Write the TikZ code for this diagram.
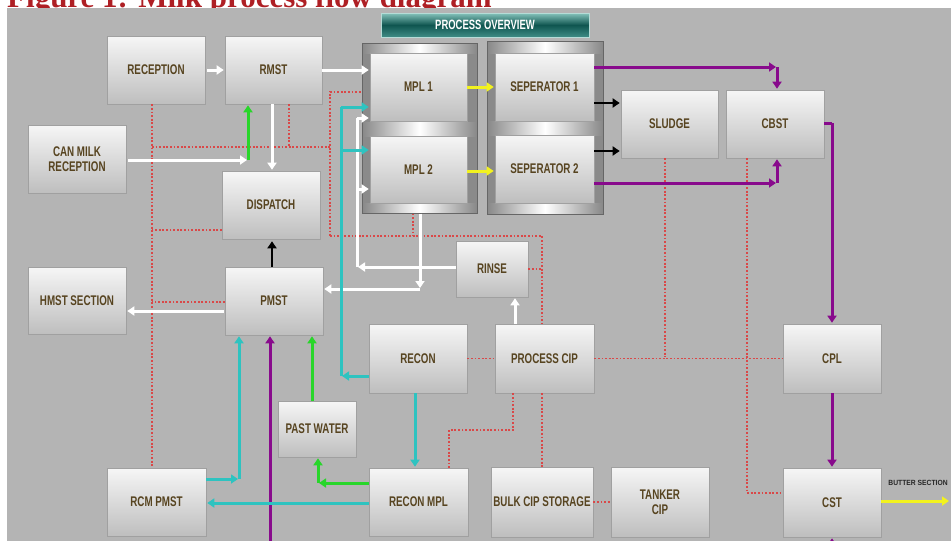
\documentclass[tikz,border=0pt]{standalone}
\usepackage{fontspec}
\usetikzlibrary{arrows.meta}
\newfontfamily\boxfont[FakeStretch=0.7]{Liberation Sans}
\newfontfamily\capfont{Liberation Serif}
\newfontfamily\tinyfont[FakeStretch=0.9]{Liberation Sans}
\definecolor{panel}{HTML}{B4B4B4}
\definecolor{txtc}{HTML}{574420}
\definecolor{capred}{HTML}{AE1F24}
\definecolor{cyanl}{HTML}{2EC3C0}
\definecolor{greenl}{HTML}{28D62A}
\definecolor{purpl}{HTML}{880A8C}
\definecolor{yell}{HTML}{F2F21E}
\definecolor{redd}{HTML}{D94848}
\definecolor{boxtop}{HTML}{F6F6F6}
\definecolor{boxbot}{HTML}{BEBEBE}
\definecolor{boxline}{HTML}{A0A0A0}
\definecolor{framec}{HTML}{8A8A8A}
\definecolor{frameline}{HTML}{666666}
\definecolor{teala}{HTML}{86C4BC}
\definecolor{tealb}{HTML}{0F5550}
\definecolor{tealc}{HTML}{3F8C85}
\tikzset{
  box/.style={draw=boxline, line width=0.6pt, top color=boxtop, bottom color=boxbot,
    minimum width=98pt, minimum height=68pt, inner sep=0pt, align=center, text=txtc,
    font=\boxfont\bfseries\fontsize{14}{15}\selectfont},
  frame/.style={draw=frameline, line width=1pt, fill=framec, inner sep=0pt},
  banner/.style={draw=teala!60!white, line width=1pt, top color=teala, bottom color=tealc,
    middle color=tealb, minimum width=208pt, minimum height=24pt, inner sep=0pt,
    text=white, font=\boxfont\bfseries\fontsize{13.5}{15}\selectfont},
  arrtip/.style={-{Triangle[length=7pt,width=9pt]}, shorten >=1pt},
  conn/.style={line width=3pt},
  wl/.style={conn, draw=white}, wa/.style={wl, arrtip},
  cl/.style={conn, draw=cyanl}, ca/.style={cl, arrtip},
  gl/.style={conn, draw=greenl}, ga/.style={gl, arrtip},
  pl/.style={conn, draw=purpl}, pa/.style={pl, arrtip},
  yl/.style={conn, draw=yell}, ya/.style={yl, arrtip},
  ba/.style={line width=2.5pt, draw=black, arrtip},
  rd/.style={draw=redd, line width=1.6pt, dash pattern=on 1.8pt off 1.8pt}
}
\begin{document}
\begin{tikzpicture}[x=1pt,y=-1pt]
\useasboundingbox (0,0) rectangle (951,541);
\clip (0,0) rectangle (951,541);
\node[anchor=base west, inner sep=0pt, text=capred,
  font=\capfont\bfseries\fontsize{31}{34}\selectfont] (cap) at (7,7.5) {Figure 1: Milk process flow diagram};
\fill[panel] (7,8) rectangle (951,541);

% banner
\node[banner] (PO) at (485,25) {PROCESS OVERVIEW};

% frames
\node[frame, minimum width=115pt, minimum height=170pt] (F1) at (419.5,128) {};
\node[frame, minimum width=116pt, minimum height=173pt] (F2) at (545,127.5) {};
\shade[left color=framec, right color=framec, middle color=white] (363,44) rectangle (476,53);
\shade[left color=framec, right color=framec, middle color=white] (363,122) rectangle (476,136);
\shade[left color=framec, right color=framec, middle color=white] (363,203) rectangle (476,212);
\shade[left color=framec, right color=framec, middle color=white] (488,42) rectangle (602,53);
\shade[left color=framec, right color=framec, middle color=white] (488,121) rectangle (602,135);
\shade[left color=framec, right color=framec, middle color=white] (488,203) rectangle (602,213);

% boxes
\node[box] (REC) at (156,70) {RECEPTION};
\node[box, minimum width=97pt] (RMST) at (273.5,70) {RMST};
\node[box] (CAN) at (77,159) {CAN MILK\\RECEPTION};
\node[box] (DISP) at (271,205) {DISPATCH};
\node[box, minimum height=67pt] (HMST) at (77,300.5) {HMST SECTION};
\node[box] (PMST) at (274,301) {PMST};
\node[box, minimum width=97pt] (MPLa) at (418.5,87) {MPL 1};
\node[box, minimum width=97pt, minimum height=67pt] (MPLb) at (418.5,169.5) {MPL 2};
\node[box, minimum width=99pt] (SEPa) at (544.5,87) {SEPERATOR 1};
\node[box, minimum width=99pt] (SEPb) at (544.5,169) {SEPERATOR 2};
\node[box, minimum width=97pt] (SLUD) at (669.5,124) {SLUDGE};
\node[box] (CBST) at (775,124) {CBST};
\node[box, minimum width=72pt, minimum height=56pt] (RINSE) at (492,269) {RINSE};
\node[box, minimum height=69pt] (RECON) at (418,358.5) {RECON};
\node[box, minimum width=99pt, minimum height=69pt] (PCIP) at (544.5,358.5) {PROCESS CIP};
\node[box, minimum height=69pt] (CPL) at (832,358.5) {CPL};
\node[box, minimum width=78pt, minimum height=56pt] (PAST) at (317,429) {PAST WATER};
\node[box, minimum width=99pt] (RCM) at (156.5,502) {RCM PMST};
\node[box, minimum width=99pt] (RMPL) at (418.5,502) {RECON MPL};
\node[box, minimum width=102pt, minimum height=70pt] (BULK) at (542,502) {BULK CIP STORAGE};
\node[box, minimum height=70pt] (TANK) at (660,502) {TANKER\\CIP};
\node[box, minimum height=69pt] (CST) at (832,502.5) {CST};
\node[inner sep=0pt, text=black!85, font=\tinyfont\bfseries\fontsize{7.5}{9}\selectfont] (BS) at (918,483) {BUTTER SECTION};

% red dotted
\coordinate (r1) at (152,147);
\coordinate (r2) at (330,147);
\coordinate (r3) at (330,92);
\coordinate (r4) at (330,236);
\coordinate (r5) at (542,236);
\coordinate (r6) at (413,236);
\coordinate (r7) at (665,357);
\coordinate (r8) at (747,493);
\coordinate (r9) at (513,430);
\coordinate (r10) at (449,430);
\coordinate (r11) at (289,147);
\coordinate (r12) at (152,230);
\coordinate (r13) at (152,302);
\draw[rd] (REC.south -| r1) -- (RCM.north -| r1);
\draw[rd] (r1) -- (r2);
\draw[rd] (RMST.south -| r11) -- (r11);
\draw[rd] (r4) -- (r3) -- (F1.west |- r3);
\draw[rd] (r4) -- (r5) -- (PCIP.north -| r5);
\draw[rd] (RINSE.east) -- (RINSE.east -| r5);
\draw[rd] (F1.south -| r6) -- (r6);
\draw[rd] (DISP.west |- r12) -- (r12);
\draw[rd] (PMST.west |- r13) -- (r13);
\draw[rd] (RECON.east) -- (PCIP.west);
\draw[rd] (PCIP.east) -- (CPL.west);
\draw[rd] (SLUD.south -| r7) -- (r7);
\draw[rd] (CBST.south -| r8) -- (r8) -- (CST.west |- r8);
\draw[rd] (PCIP.south -| r9) -- (r9) -- (r10) -- (RMPL.north -| r10);
\draw[rd] (PCIP.south -| r5) -- (BULK.north -| r5);
\draw[rd] (BULK.east) -- (TANK.west);

% purple
\coordinate (p0) at (270,560);
\coordinate (p1) at (777,67);
\coordinate (p2) at (777,183);
\coordinate (p3) at (832,123);
\coordinate (p4) at (832,560);
\draw[pa] (p0) -- (PMST.south -| p0);
\draw[pa] (SEPa.east |- p1) -- (p1);
\draw[pa] (p1) -- (CBST.north -| p1);
\draw[pa] (SEPb.east |- p2) -- (p2);
\draw[pa] (p2) -- (CBST.south -| p2);
\draw[pl] (CBST.east |- p3) -- (p3);
\draw[pa] (p3) -- (CPL.north -| p3);
\draw[pa] (CPL.south -| p3) -- (CST.north -| p3);
\draw[pa] (p4) -- (CST.south -| p4);

% white
\coordinate (w1) at (248,160);
\coordinate (w2) at (420,289);
\coordinate (w3) at (357,267);
\coordinate (w4) at (357,118);
\coordinate (w5) at (357,189);
\coordinate (v1) at (272,150);
\coordinate (v2) at (515,300);
\coordinate (h1) at (200,311);
\draw[wa, shorten <=2pt] (REC.east) -- (RMST.west);
\draw[wa] (RMST.east) -- (RMST.east -| MPLa.west);
\draw[wa, shorten <=2pt] (CAN.east |- w1) -- (w1);
\draw[wa] (RMST.south -| v1) -- (DISP.north -| v1);
\draw[wa, shorten <=1pt] (PMST.west |- h1) -- (HMST.east |- h1);
\draw[wa] (F1.south -| w2) -- (w2);
\draw[wa] (w2) -- (PMST.east |- w2);
\draw[wa] (RINSE.west |- w3) -- (w3);
\draw[wl] (w3) -- (w4);
\draw[wa] (w4) -- (MPLa.west |- w4);
\draw[wa] (w5) -- (MPLb.west |- w5);
\draw[wa] (PCIP.north -| v2) -- (RINSE.south -| v2);

% black
\coordinate (k1) at (600,103);
\coordinate (k2) at (600,151);
\draw[ba, shorten >=2pt] (PMST.north -| v1) -- (DISP.south -| v1);
\draw[ba] (SEPa.east |- k1) -- (SLUD.west |- k1);
\draw[ba] (SEPb.east |- k2) -- (SLUD.west |- k2);

% green
\coordinate (g2) at (318,483);
\coordinate (g3) at (312,380);
\draw[ga] (w1) -- (RMST.south -| w1);
\draw[ga] (RMPL.west |- g2) -- (g2);
\draw[ga] (g2) -- (PAST.south -| g2);
\draw[ga] (PAST.north -| g3) -- (PMST.south -| g3);

% cyan
\coordinate (c1) at (341,376);
\coordinate (c2) at (341,107);
\coordinate (c3) at (341,150);
\coordinate (c4) at (239,479);
\coordinate (c5) at (415,400);
\coordinate (c6) at (300,503);
\draw[ca] (RECON.west |- c1) -- (c1);
\draw[cl] (c1) -- (c2);
\draw[ca] (c2) -- (MPLa.west |- c2);
\draw[ca] (c3) -- (MPLb.west |- c3);
\draw[ca] (RECON.south -| c5) -- (RMPL.north -| c5);
\draw[ca] (RMPL.west |- c6) -- (RCM.east |- c6);
\draw[ca] (RCM.east |- c4) -- (c4);
\draw[ca] (c4) -- (PMST.south -| c4);

% yellow
\coordinate (y1) at (480,171);
\coordinate (y2) at (951,501);
\draw[ya] (MPLa.east) -- (SEPa.west);
\draw[ya] (MPLb.east |- y1) -- (SEPb.west |- y1);
\draw[ya, shorten >=2pt] (CST.east |- y2) -- (y2);
\end{tikzpicture}
\end{document}
